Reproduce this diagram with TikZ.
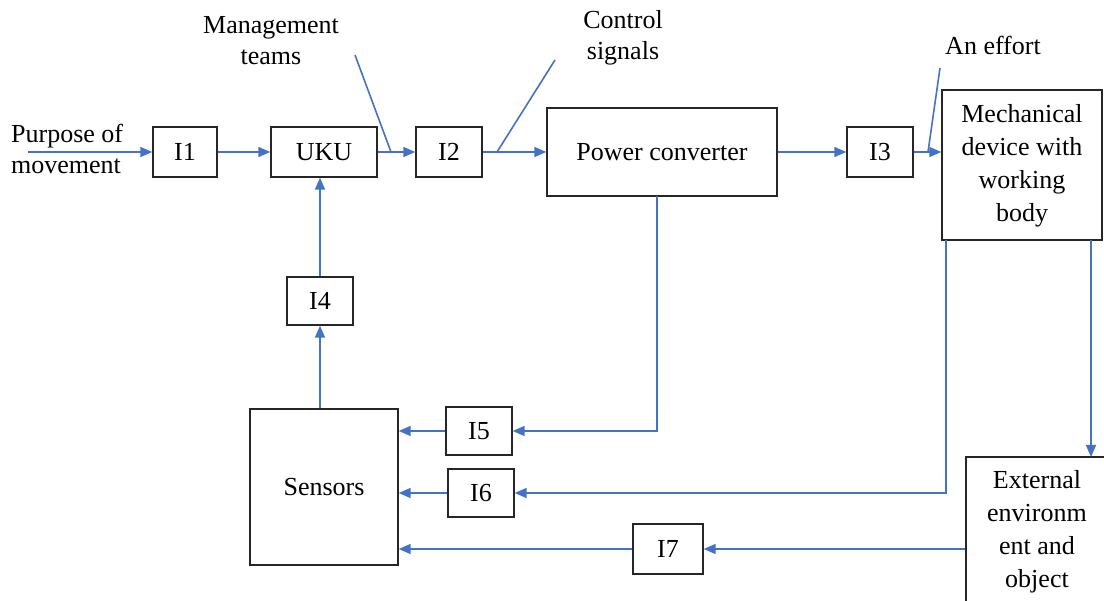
\documentclass[tikz,border=0pt]{standalone}
\usepackage{fontspec}
\setmainfont{Liberation Serif}
\newfontfamily\tnr{Liberation Serif}
\usetikzlibrary{arrows.meta}
\definecolor{lblue}{HTML}{4472C4}
\begin{document}
\begin{tikzpicture}[x=1pt,y=-1pt,
  box/.style={draw=black!85,line width=1.4pt,inner sep=0pt,align=center,
    font=\tnr\fontsize{26}{33}\selectfont},
  lbl/.style={inner sep=0pt,align=center,font=\tnr\fontsize{26}{31}\selectfont},
  conn/.style={draw=lblue,line width=1.6pt},
  arr/.style={conn,-{Triangle[length=12pt,width=10pt]}}]
\clip (0,0) rectangle (1104,601);
\fill[white] (0,0) rectangle (1104,601);
% boxes
\node[box,minimum width=64pt,minimum height=50pt] (i1) at (185,152) {I1};
\node[box,minimum width=106pt,minimum height=50pt] (uku) at (324,152) {UKU};
\node[box,minimum width=66pt,minimum height=50pt] (i2) at (449,152) {I2};
\node[box,minimum width=230pt,minimum height=88pt] (pc) at (662,152) {Power converter};
\node[box,minimum width=66pt,minimum height=50pt] (i3) at (880,152) {I3};
\node[box,minimum width=160pt,minimum height=150pt] (mech) at (1022,165) {\raisebox{-4pt}{\begin{tabular}{@{}c@{}}Mechanical\\device with\\working\\body\end{tabular}}};
\node[box,minimum width=142pt,minimum height=150pt] (ext) at (1037,532) {External\\environm\\ent and\\object};
\node[box,minimum width=66pt,minimum height=48pt] (i4) at (320,301) {I4};
\node[box,minimum width=148pt,minimum height=156pt] (sens) at (324,487) {Sensors};
\node[box,minimum width=66pt,minimum height=48pt] (i5) at (479,431) {I5};
\node[box,minimum width=66pt,minimum height=48pt] (i6) at (481,493) {I6};
\node[box,minimum width=70pt,minimum height=50pt] (i7) at (668,549) {I7};
% labels
\node[lbl,align=left,anchor=west] (purp) at (11,149) {Purpose of\\movement};
\node[lbl] (mgmt) at (271,41) {Management\\teams};
\node[lbl] (ctrl) at (623,38) {Control\\signals};
\node[lbl] (eff) at (993,45) {An effort};
% coordinates
\coordinate (pin) at (28,152);
\coordinate (m1) at (355,55);
\coordinate (m2) at (391,152);
\coordinate (c1) at (555,60);
\coordinate (c2) at (497,152);
\coordinate (e1) at (940,68);
\coordinate (e2) at (928,152);
\coordinate (pcb) at (657,196);
\coordinate (mb1) at (946,240);
\coordinate (mb2) at (1091,240);
\coordinate (et) at (1091,457);
% connectors
\draw[arr] (pin) -- (i1);
\draw[arr] (i1) -- (uku);
\draw[arr] (uku) -- (i2);
\draw[arr] (i2.east) -- (i2.east -| pc.west);
\draw[arr] (pc.east |- i3) -- (i3);
\draw[arr] (i3.east) -- (i3.east -| mech.west);
\draw[conn] (m1) -- (m2);
\draw[conn] (c1) -- (c2);
\draw[conn] (e1) -- (e2);
\draw[arr] (pcb) |- (i5.east);
\draw[arr] (i5.west) -- (i5.west -| sens.east);
\draw[arr] (mb1) |- (i6.east);
\draw[arr] (i6.west) -- (i6.west -| sens.east);
\draw[arr] (mb2) -- (et);
\draw[arr] (ext.west |- i7) -- (i7.east);
\draw[arr] (i7.west) -- (i7.west -| sens.east);
\draw[arr] (sens.north -| i4) -- (i4.south);
\draw[arr] (i4.north) -- (i4.north |- uku.south);
\end{tikzpicture}
\end{document}
